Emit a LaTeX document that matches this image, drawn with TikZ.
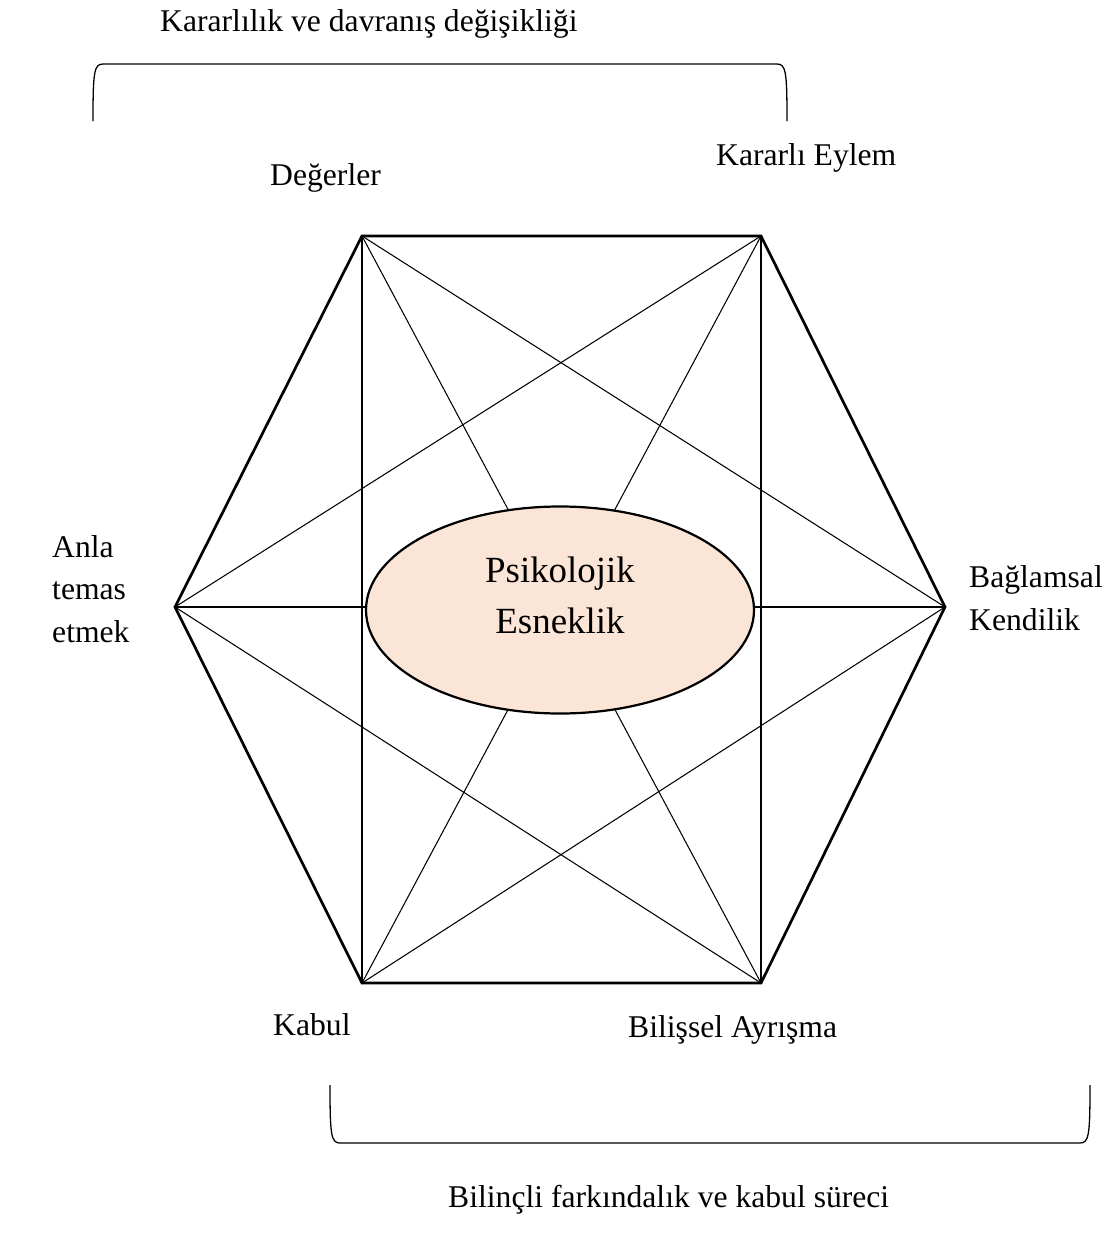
\documentclass[tikz,border=0pt]{standalone}
\usepackage{fontspec}
\setmainfont{Liberation Serif}
\usepackage{xcolor}
\usetikzlibrary{shapes.geometric}
\definecolor{peach}{HTML}{FBE5D6}

\begin{document}
\begin{tikzpicture}[
  x=0.03cm, y=-0.03cm,
  lbl/.style={inner sep=0pt,anchor=base west,align=left,
              font=\fontsize{27}{36}\selectfont},
  side/.style={line width=2.3pt,line join=miter},
  chord/.style={line width=0.9pt},
  core/.style={ellipse,draw,line width=1.9pt,fill=peach,align=center,
               minimum width=11.64cm,minimum height=6.21cm,inner sep=0pt,
               text depth=0.9cm,font=\fontsize{31.5}{44}\selectfont},
  brace/.style={line width=1.1pt}
]
\useasboundingbox (0,0) rectangle (1111,1247);
% corners of the hexagon
\coordinate (tl) at (362,236);
\coordinate (tr) at (761,236);
\coordinate (r)  at (945,607);
\coordinate (br) at (761,983);
\coordinate (bl) at (362,983);
\coordinate (l)  at (175,607);
% chords
\foreach \a/\b in {tl/bl,tl/br,tl/r,tr/bl,tr/l,tr/br,l/r,l/br,r/bl}
  \draw[chord] (\a) -- (\b);
\draw[side] (tl) -- (tr) -- (r) -- (br) -- (bl) -- (l) -- cycle;
% centre
\node[core] (pe) at (560,610) {Psikolojik\\Esneklik};
% corner labels
\node[lbl] (deg) at (270,185) {Değerler};
\node[lbl] (eyl) at (716,165) {Kararlı Eylem};
\node[lbl] (anl) at (52,642) {Anla\\temas\\etmek};
\node[lbl] (bag) at (969,630) {Bağlamsal\\Kendilik};
\node[lbl] (kab) at (273,1035) {Kabul};
\node[lbl] (bil) at (628,1037) {Bilişsel Ayrışma};
% brackets
\coordinate (ta) at (93,121);
\coordinate (tb) at (787,121);
\draw[brace] (ta) .. controls (93,72) and (94,64) .. (103,64) -- (777,64)
  .. controls (786,64) and (787,72) .. (tb);
\coordinate (ba) at (330,1085);
\coordinate (bb) at (1090,1085);
\draw[brace] (ba) .. controls (330,1135) and (331,1143) .. (340,1143) -- (1080,1143)
  .. controls (1089,1143) and (1090,1135) .. (bb);
\node[lbl] (top) at (160,31) {Kararlılık ve davranış değişikliği};
\node[lbl] (bot) at (448,1207) {Bilinçli farkındalık ve kabul süreci};
\end{tikzpicture}
\end{document}
